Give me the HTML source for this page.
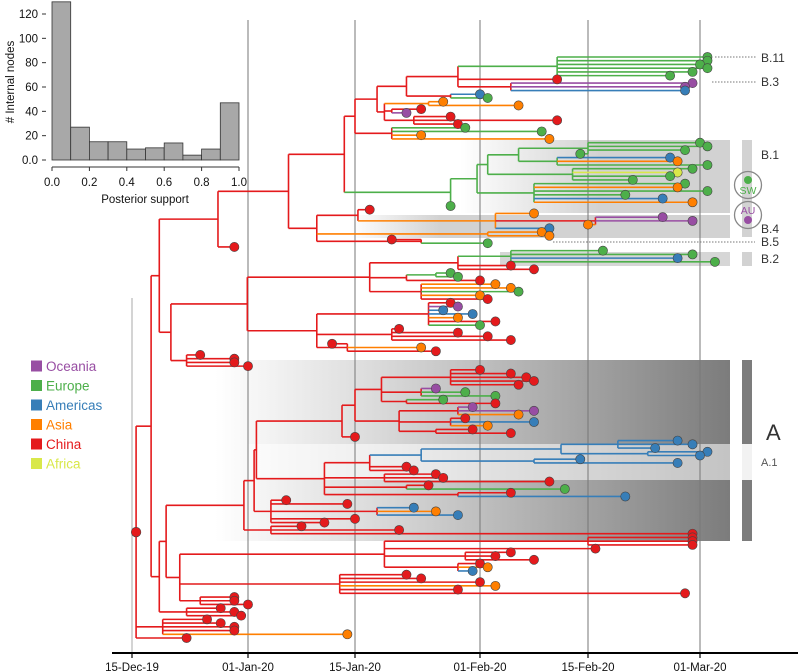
<!DOCTYPE html>
<html><head><meta charset="utf-8"><style>
html,body{margin:0;padding:0;background:#fff;}
svg{display:block;font-family:"Liberation Sans",sans-serif;}
</style></head><body>
<svg id="chart" width="798" height="672" viewBox="0 0 798 672" xmlns="http://www.w3.org/2000/svg">
<defs>
<linearGradient id="gB1" gradientUnits="userSpaceOnUse" x1="460" y1="0" x2="600" y2="0"><stop offset="0" stop-color="#fff"/><stop offset="1" stop-color="#d2d2d2"/></linearGradient>
<linearGradient id="gB4" gradientUnits="userSpaceOnUse" x1="350" y1="0" x2="440" y2="0"><stop offset="0" stop-color="#fff"/><stop offset="1" stop-color="#d2d2d2"/></linearGradient>
<linearGradient id="gA" gradientUnits="userSpaceOnUse" x1="215" y1="0" x2="730" y2="0"><stop offset="0" stop-color="#fff"/><stop offset="0.3" stop-color="#dcdcdc"/><stop offset="1" stop-color="#7c7c7c"/></linearGradient>
</defs>
<g id="bands"></g>
<g id="grid"></g>
<g id="tree"></g>
<g id="axis"></g>
<g id="hist"></g>
<g id="legend"></g>
<g id="labels"></g>
</svg>
<script>
// ---- axis data ----
var tickDays = [0, 17, 31, 48, 62, 77];
var tickLabels = ["15-Dec-19", "01-Jan-20", "15-Jan-20", "01-Feb-20", "15-Feb-20", "01-Mar-20"];
// ---- histogram data ----
var histBins = [0, 0.1, 0.2, 0.3, 0.4, 0.5, 0.6, 0.7, 0.8, 0.9];
var histCounts = [130, 27, 15, 15, 9, 10, 14, 4, 9, 47];
var histYTicks = [0, 20, 40, 60, 80, 100, 120];
var histYTickLabels = ["0.0", "20", "40", "60", "80", "100", "120"];
var histXTicks = [0, 0.2, 0.4, 0.6, 0.8, 1.0];
// ---- legend data ----
var regionCodes = ["O", "E", "M", "A", "C", "F"];
var regionNames = ["Oceania", "Europe", "Americas", "Asia", "China", "Africa"];
var regionColors = ["#984ea3", "#4daf4a", "#377eb8", "#ff7f00", "#e41a1c", "#d9e84a"];
// ---- tree data (region code + days since 15-Dec-19) ----
var U1 = "((E(E78,E78,E77,E78,E76,E73)58,C58,(O76,O75,M75)52)45,(M48,E49)44)38";
var U2 = "((A43,A53)41,(C40,O38)36,(C44,C58,C45)39)35";
var TOPS = "((" + U1 + "," + U2 + ")34,(E46,E56,A40,A57)36)31";
var B1big = "E(E(E(E(E(E77,E78,E75,E61)62,E(M73,A74,E78)58)53,E(E76,F74,E73,E68)60)49,E(E75,A74,E78,E67,M72,A76)55)47.6,E44)44";
var N316 = "((C33,A(A55,(O72,O76,A62)63,M57)50)31.4,A(A56,A57)49,(C36,E49)40)26";
var R1 = "((E(E64,E76,M74,E79)52,C52,C55)45,((E44,E45)42,C48)38,(A50,A52,E53,A48,C49)40)33";
var R2 = "((C44,O45,M43,M47,A45,C50,E48)41,(C37,C45,C49,C52)36,(C28,A40,C42)30)26";
var Aup = "((((C48,C52,C54,C55,C53)44,(O42,E46,E50)40,(E43,C50)38)34.6,((O47,O55,A53)45,(C46,M55,A49)44,(C47,C52)42)37)31,C31)29.3";
var A1 = "M(M(M(M74,M76,M71)66,M(M78,M77)70)58.5,M(M61,M74)55)40";
var Amid = "((" + A1 + ",C38,C39)33,(C42,C43,C57)35,(C41,E59)38,(C52,M67)45)27";
var Alow = "(C22,C30,(M39,A42,M45)34,C31,C27)20";
var Bb1 = "((C76,C76,C76)62,C63,(C52,C50,C55)46,(C48,A49,M47)45)35";
var X575 = "(C38,C40,C48,A50,C45,C75)29";
var NA = "(((" + Aup + "," + Amid + ")18.1," + Alow + ")17.8,(C24,C37,C76)20)16.4";
var N159 = "((((" + TOPS + "," + B1big + ")29.6," + N316 + ")22.3,C15)12.6,((" + R1 + "," + R2 + ")16.9,(C10,C15,C15,C17)8)5.7)4";
var N159b = "((" + NA + ",(" + Bb1 + "," + X575 + ",(C15,C15,C17)10)7)5,(C13,C15,C16)8)4";
var treeString = "((" + N159 + "," + N159b + ")2.8,(C11,C13,C15,C15,A30)4.5,C8)0.6";
</script>
<script>
var NS = "http://www.w3.org/2000/svg";
function mk(tag, attrs, parent) {
  var e = document.createElementNS(NS, tag);
  for (var k in attrs) e.setAttribute(k, attrs[k]);
  parent.appendChild(e);
  return e;
}
var tickX = [132, 248, 355, 480, 588, 700];
function xScale(d) {
  for (var i = 0; i < tickDays.length - 1; i++) {
    if (d <= tickDays[i + 1] || i === tickDays.length - 2) {
      return tickX[i] + (d - tickDays[i]) * (tickX[i + 1] - tickX[i]) / (tickDays[i + 1] - tickDays[i]);
    }
  }
  return tickX[0];
}
function colorOf(code) { var k = regionCodes.indexOf(code); return regionColors[k < 0 ? 4 : k]; }

// ---- bands ----
var bands = document.getElementById("bands");
var b;
b = mk("rect", {x: 215, y: 360, width: 515, height: 181, fill: "url(#gA)"}, bands);


b = mk("rect", {x: 248, y: 444, width: 482, height: 36, fill: "#ffffff", opacity: 0.55}, bands);


b = mk("rect", {x: 440, y: 140, width: 290, height: 73, fill: "url(#gB1)"}, bands);


b = mk("rect", {x: 340, y: 215, width: 390, height: 23, fill: "url(#gB4)"}, bands);


b = mk("rect", {x: 500, y: 252, width: 230, height: 14, fill: "#d6d6d6"}, bands);


b = mk("rect", {x: 742, y: 140, width: 10, height: 97, fill: "#d2d2d2"}, bands);


b = mk("rect", {x: 742, y: 252, width: 10, height: 14, fill: "#d2d2d2"}, bands);


b = mk("rect", {x: 742, y: 360, width: 10, height: 181, fill: "#7c7c7c"}, bands);


b = mk("rect", {x: 742, y: 444, width: 10, height: 36, fill: "#f2f2f2"}, bands);



// ---- gridlines & axis ----
var grid = document.getElementById("grid");
var axis = document.getElementById("axis");
for (var i = 0; i < tickDays.length; i++) {
  var gx = xScale(tickDays[i]);
  var gl = mk("line", {x1: gx, x2: gx, y1: i === 0 ? 298 : 20, y2: 653, stroke: i === 0 ? "#aaa" : "#777", "stroke-width": 1}, grid);
  
  
  var tk = mk("line", {x1: gx, x2: gx, y1: 653, y2: 658, stroke: "#000", "stroke-width": 1.2}, axis);
  
  
  var tl = mk("text", {x: gx, y: 671, "text-anchor": "middle", "font-size": 11.5, fill: "#111"}, axis);
  tl.textContent = tickLabels[i];
  
  
}
var al = mk("line", {x1: 112, x2: 798, y1: 653, y2: 653, stroke: "#000", "stroke-width": 2}, axis);



// ---- parse tree (guarded) ----
function parse(s) {
  var pos = 0;
  function num() {
    var st = pos;
    while (pos < s.length && /[0-9.]/.test(s[pos])) pos++;
    var v = parseFloat(s.substring(st, pos));
    return isNaN(v) ? 0 : v;
  }
  function node(depth) {
    var reg = null;
    if (pos < s.length && /[A-Z]/.test(s[pos])) { reg = s[pos]; pos++; }
    if (pos < s.length && s[pos] === "(" && depth < 60) {
      pos++;
      var ch = [];
      var guard = 0;
      while (pos < s.length && guard < 500) {
        guard++;
        ch.push(node(depth + 1));
        if (s[pos] === ",") { pos++; continue; }
        if (s[pos] === ")") { pos++; break; }
        break;
      }
      var t = num();
      return {reg: reg, t: t, children: ch};
    }
    return {reg: reg || "C", t: num(), tip: true};
  }
  return node(0);
}
var root = parse(treeString);
var tips = [];
function collect(n) { if (n.tip) tips.push(n); else n.children.forEach(collect); }
collect(root);
var y0 = 57, y1 = 638;
var step = (y1 - y0) / Math.max(1, tips.length - 1);
tips.forEach(function (t, i) { t.y = y0 + i * step; });
function layout(n) {
  if (n.tip) return n.reg;
  var regs = n.children.map(layout);
  n.y = (n.children[0].y + n.children[n.children.length - 1].y) / 2;
  if (!n.reg) {
    var allSame = regs.every(function (r) { return r === regs[0]; });
    n.reg = allSame ? regs[0] : "C";
  }
  return n.reg;
}
layout(root);

var tree = document.getElementById("tree");
var lines = mk("g", {}, tree);
var dots = mk("g", {}, tree);
function draw(n) {
  var px = xScale(n.t);
  if (n.tip) return;
  var first = n.children[0].y, last = n.children[n.children.length - 1].y;
  var v = mk("line", {x1: px, x2: px, y1: first, y2: last, stroke: colorOf(n.reg), "stroke-width": 1.6}, lines);
  
  
  n.children.forEach(function (c) {
    var h = mk("line", {x1: px, x2: xScale(c.t), y1: c.y, y2: c.y, stroke: colorOf(c.reg), "stroke-width": 1.6}, lines);
    
    
    draw(c);
  });
}
draw(root);
tips.forEach(function (t) {
  var c = mk("circle", {cx: xScale(t.t), cy: t.y, r: 4.6, fill: colorOf(t.reg), stroke: "#444", "stroke-width": 0.6}, dots);
  
  
});
var rd = mk("circle", {cx: xScale(root.t), cy: root.y, r: 4.8, fill: colorOf("C"), stroke: "#444", "stroke-width": 0.6}, dots);



// ---- histogram ----
var hist = document.getElementById("hist");
function hx(v) { return 52 + v * 187; }
function hy(v) { return 160 - v * 146 / 120; }
histCounts.forEach(function (c, i) {
  var top = Math.max(0, hy(c));
  var r = mk("rect", {x: hx(histBins[i]), y: top, width: 18.7, height: 160 - top, fill: "#a8a8a8", stroke: "#333", "stroke-width": 0.8}, hist);
  
  
});
histYTicks.forEach(function (v, i) {
  var t = mk("line", {x1: 42, x2: 46, y1: hy(v), y2: hy(v), stroke: "#333"}, hist);
  
  
  var l = mk("text", {x: 38, y: hy(v) + 4, "text-anchor": "end", "font-size": 11.5, fill: "#111"}, hist);
  l.textContent = histYTickLabels[i];
  
  
});
var hxl = mk("line", {x1: hx(0), x2: hx(1), y1: 167, y2: 167, stroke: "#333"}, hist);


histXTicks.forEach(function (v) {
  var t = mk("line", {x1: hx(v), x2: hx(v), y1: 167, y2: 171, stroke: "#333"}, hist);
  
  
  var l = mk("text", {x: hx(v), y: 186, "text-anchor": "middle", "font-size": 11.5, fill: "#111"}, hist);
  l.textContent = v.toFixed(1);
  
  
});
var xt = mk("text", {x: 145, y: 203, "text-anchor": "middle", "font-size": 11.5, fill: "#111"}, hist);
xt.textContent = "Posterior support";


var yt = mk("text", {x: 0, y: 0, transform: "translate(14,82) rotate(-90)", "text-anchor": "middle", "font-size": 11.5, fill: "#111"}, hist);
yt.textContent = "# Internal nodes";



// ---- legend ----
var legend = document.getElementById("legend");
regionNames.forEach(function (nm, i) {
  var y = 366 + i * 19.5;
  var g = mk("g", {}, legend);
  
  
  mk("rect", {x: 31, y: y - 5.5, width: 11, height: 11, fill: regionColors[i]}, g);
  var t = mk("text", {x: 46, y: y + 5, "font-size": 13.5, fill: regionColors[i]}, g);
  t.textContent = nm;
});

// ---- clade labels ----
var labels = document.getElementById("labels");
function lab(txt, x, y, size, fill, name) {
  var t = mk("text", {x: x, y: y, "font-size": size, fill: fill}, labels);
  t.textContent = txt;
  
  
  return t;
}
function dotted(x1, x2, y, name) {
  var l = mk("line", {x1: x1, x2: x2, y1: y, y2: y, stroke: "#777", "stroke-width": 1, "stroke-dasharray": "1.5,1.5"}, labels);
  
  
}
dotted(715, 757, 57, "b11-leader");
dotted(712, 757, 82, "b3-leader");
dotted(553, 755, 242, "b5-leader");
lab("B.11", 761, 62, 12, "#333", "label-b11");
lab("B.3", 761, 86, 12, "#333", "label-b3");
lab("B.1", 761, 159, 12, "#333", "label-b1");
lab("B.4", 761, 233, 12, "#333", "label-b4");
lab("B.5", 761, 246, 12, "#333", "label-b5");
lab("B.2", 761, 263, 12, "#333", "label-b2");
lab("A", 766, 440, 22, "#333", "label-a");
lab("A.1", 761, 466, 11, "#555", "label-a1");
var markers = [["SW", 185, "#4daf4a"], ["AU", 215, "#984ea3"]];
markers.forEach(function (s) {
  var g = mk("g", {}, labels);
  
  
  mk("circle", {cx: 748, cy: s[1], r: 13.5, fill: "none", stroke: "#888", "stroke-width": 1.3}, g);
  mk("circle", {cx: 748, cy: s[1] + (s[0] === "SW" ? -5 : 5), r: 4, fill: s[2]}, g);
  var t = mk("text", {x: 748, y: s[1] + (s[0] === "SW" ? 9 : -1), "text-anchor": "middle", "font-size": 10.5, fill: s[2]}, g);
  t.textContent = s[0];
});
</script>
</body></html>
